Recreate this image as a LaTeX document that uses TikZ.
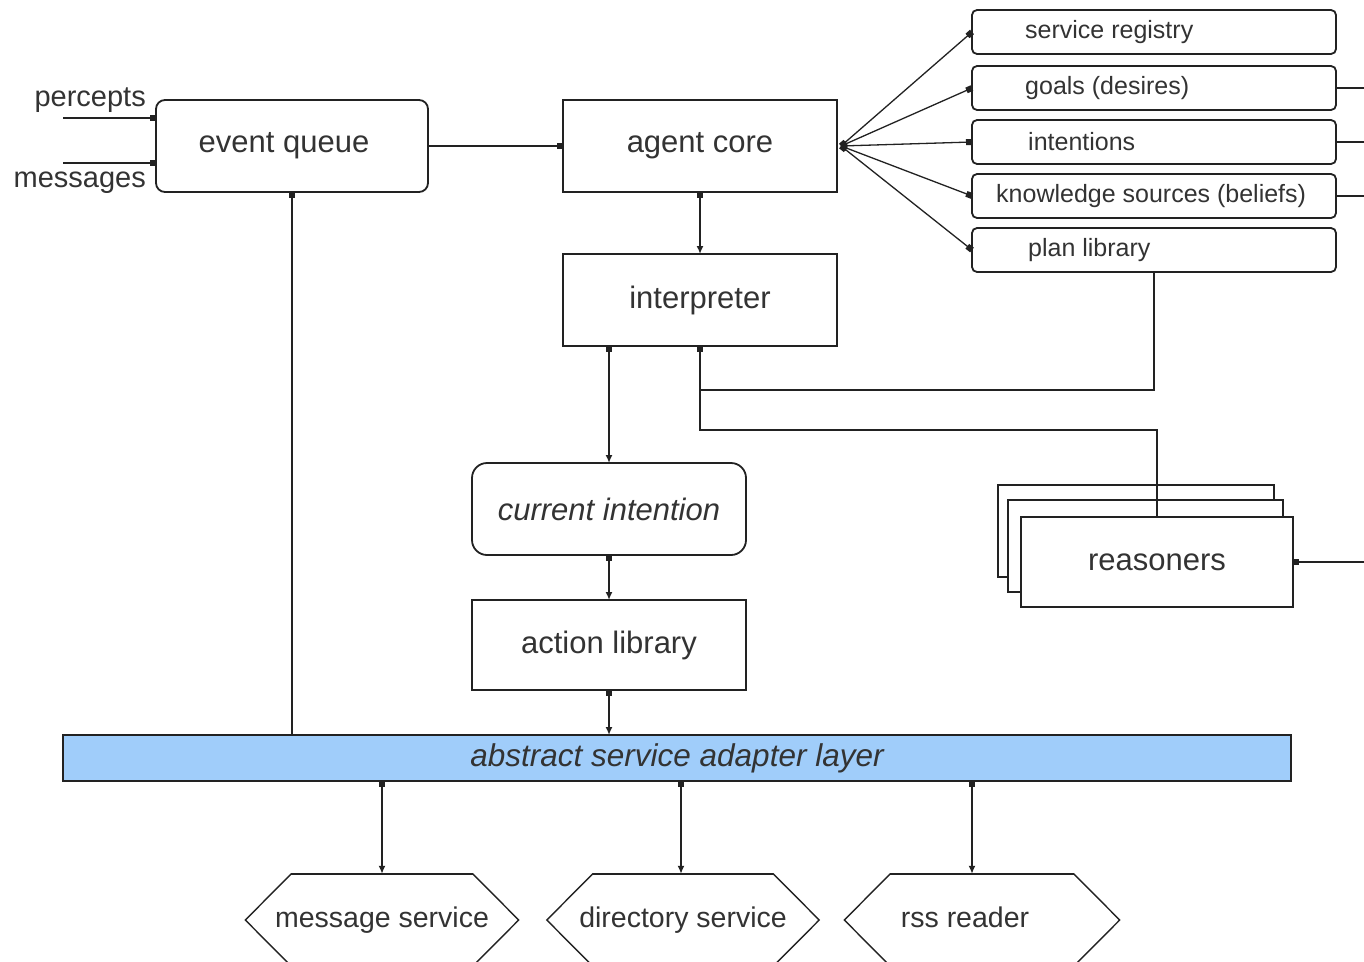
\documentclass[tikz,border=0pt]{standalone}
\usepackage{fontspec}
\setmainfont{Liberation Sans}
\usetikzlibrary{arrows.meta,calc}
\definecolor{txtc}{HTML}{333333}
\definecolor{linec}{HTML}{222222}
\definecolor{layerblue}{HTML}{A0CDFA}
\tikzset{
  sq/.tip={Square[length=6pt,width=6pt]},
  ar/.tip={Latex[length=8pt,width=7pt]},
  box/.style={draw=linec, line width=1.8pt, fill=white, anchor=north west, inner sep=0pt, outer sep=0pt, text=txtc, font=\fontsize{31}{37}\selectfont},
  rbox/.style={box, rounded corners=5pt, minimum width=364pt, minimum height=44pt},
  conn/.style={line width=1.8pt, draw=linec},
  lbl/.style={text=txtc, inner sep=0pt, font=\fontsize{25}{30}\selectfont},
  hexn/.style={inner sep=0pt, minimum width=273pt, minimum height=92pt, text=txtc, font=\fontsize{28.5}{34}\selectfont}
}
\begin{document}
\begin{tikzpicture}[x=1pt,y=-1pt]
\useasboundingbox (0,0) rectangle (1364,961);
\clip (0,0) rectangle (1364,961);
\fill[white] (0,0) rectangle (1364,961);

% main boxes
\node[box, rounded corners=9pt, minimum width=272pt, minimum height=92pt] (eq) at (156,100) {event queue\hspace*{16pt}};
\node[box, minimum width=274pt, minimum height=92pt] (ac) at (563,100) {agent core};
\node[box, minimum width=274pt, minimum height=92pt] (ip) at (563,254) {interpreter};
\node[box, rounded corners=15pt, minimum width=274pt, minimum height=92pt, font=\fontsize{31}{37}\selectfont\itshape] (ci) at (472,463) {current intention};
\node[box, minimum width=274pt, minimum height=90pt] (al) at (472,600) {action library};
\node[box, fill=layerblue, minimum width=1228pt, minimum height=46pt, font=\fontsize{31.5}{37}\selectfont\itshape] (layer) at (63,735) {abstract service adapter layer};

% right boxes
\node[rbox] (sr) at (972,10) {};
\node[lbl, anchor=west] (srt) at (1025,32) {service registry};
\node[rbox] (gl) at (972,66) {};
\node[lbl, anchor=west] (glt) at (1025,88) {goals (desires)};
\node[rbox] (in) at (972,120) {};
\node[lbl, anchor=west] (int) at (1028,142) {intentions};
\node[rbox] (ks) at (972,174) {};
\node[lbl, anchor=west] (kst) at (996,196) {knowledge sources (beliefs)};
\node[rbox] (pl) at (972,228) {};
\node[lbl, anchor=west] (plt) at (1028,250) {plan library};

% reasoners
\node[box, minimum width=276pt, minimum height=92pt] (rs3) at (998,485) {};
\node[box, minimum width=275pt, minimum height=92pt] (rs2) at (1008,500) {};
\node[box, minimum width=272pt, minimum height=90pt] (rs) at (1021,517) {reasoners};

% hexagons
\node[hexn] (ms) at (382,920) {message service};
\node[hexn, minimum width=272pt] (ds) at (683,920) {directory service};
\node[hexn, minimum width=275pt] (rr) at (982,920) {};
\node[hexn, minimum width=0pt, minimum height=0pt] (rrt) at (965,920) {rss reader\vphantom{gy}};
\foreach \n in {ms,ds,rr}
  \draw[conn, line width=1.4pt] (\n.west) -- ([xshift=46pt]\n.north west) -- ([xshift=-46pt]\n.north east) -- (\n.east) -- ([xshift=-46pt]\n.south east) -- ([xshift=46pt]\n.south west) -- cycle;
\foreach \n in {ms,ds,rr}
  \draw[conn, line width=2.6pt] ([xshift=46pt]\n.north west) -- ([xshift=-46pt]\n.north east);

% inputs
\node[lbl, font=\fontsize{29}{34}\selectfont, anchor=east] (pc) at (146,100) {percepts};
\node[lbl, font=\fontsize{29}{34}\selectfont, anchor=east] (msg) at (146,183) {messages};
\coordinate (pin) at (63,118);
\coordinate (min) at (63,163);
\draw[conn,-sq] (pin) -- (pin -| eq.west);
\draw[conn,-sq] (min) -- (min -| eq.west);

% connectors
\draw[conn,-sq] (eq.east) -- (ac.west);
\draw[conn,sq-ar] (ac.south) -- (ip.north);
\draw[conn,sq-ar] (ip.south -| ci.north) -- (ci.north);
\draw[conn,sq-ar] (ci.south) -- (al.north);
\draw[conn,sq-ar] (al.south) -- (al.south |- layer.north);
\draw[conn,sq-] (eq.south) -- (eq.south |- layer.north);
\coordinate (fan) at ($(ac.east)+(4,0)$);
\foreach \b in {sr,gl,in,ks,pl}
  \draw[conn, line width=1.3pt, sq-sq] (fan) -- (\b.west);
\coordinate (gout) at ($(gl.east)+(40,0)$);
\coordinate (iout) at ($(in.east)+(40,0)$);
\coordinate (kout) at ($(ks.east)+(40,0)$);
\draw[conn] (gl.east) -- (gout);
\draw[conn] (in.east) -- (iout);
\draw[conn] (ks.east) -- (kout);
\coordinate (j1) at ($(ip.south)+(0,44)$);
\coordinate (j2) at ($(ip.south)+(0,84)$);
\draw[conn,-sq] (pl.south) |- (j1) -- (ip.south);
\draw[conn] (rs.north) |- (j2) -- (j1);
\coordinate (rout) at ($(rs.east)+(80,0)$);
\draw[conn,sq-] (rs.east) -- (rout);
\draw[conn,sq-ar] (ms.north |- layer.south) -- (ms.north);
\draw[conn,sq-ar] ([xshift=-2pt]ds.north |- layer.south) -- ([xshift=-2pt]ds.north);
\draw[conn,sq-ar] ([xshift=-10pt]rr.north |- layer.south) -- ([xshift=-10pt]rr.north);
\end{tikzpicture}
\end{document}
